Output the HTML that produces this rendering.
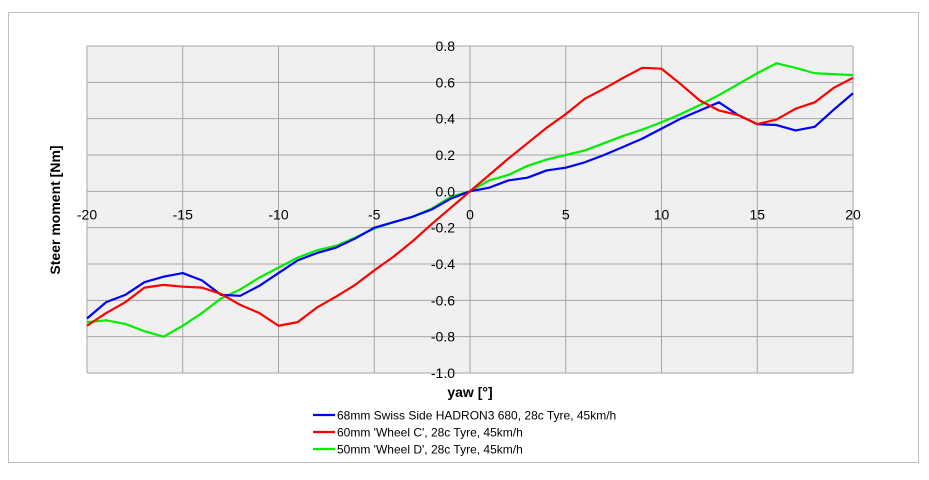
<!DOCTYPE html>
<html><head><meta charset="utf-8"><style>
body{margin:0;background:#fff;}
svg text{font-family:"Liberation Sans",sans-serif;}
</style></head><body>
<svg width="929" height="475" xmlns="http://www.w3.org/2000/svg">
<rect x="8.5" y="12.5" width="910" height="450" fill="#fff" stroke="#bfbfbf"/>
<rect x="87" y="46" width="766" height="327" fill="#f0f0f0"/>
<g id="grid"></g>
<g id="series"></g>
<g id="labels"></g>
<text x="60" y="210" transform="rotate(-90 60 210)" text-anchor="middle" font-size="14" font-weight="bold">Steer moment  [Nm]</text>
<text x="470" y="397" text-anchor="middle" font-size="14" font-weight="bold">yaw [°]</text>
<g>
<g><line x1="313" y1="415" x2="335" y2="415" stroke="#0000ff" stroke-width="2.2"/><text x="337" y="419.5" font-size="12">68mm Swiss Side HADRON3  680, 28c Tyre, 45km/h</text></g>
<g><line x1="313" y1="432" x2="335" y2="432" stroke="#ff0000" stroke-width="2.2"/><text x="337" y="436.5" font-size="12">60mm 'Wheel C', 28c Tyre, 45km/h</text></g>
<g><line x1="313" y1="449" x2="335" y2="449" stroke="#00ee00" stroke-width="2.2"/><text x="337" y="453.5" font-size="12">50mm 'Wheel D', 28c Tyre, 45km/h</text></g>
</g>
</svg>
<script>
const yawValues = [-20,-19,-18,-17,-16,-15,-14,-13,-12,-11,-10,-9,-8,-7,-6,-5,-4,-3,-2,-1,0,1,2,3,4,5,6,7,8,9,10,11,12,13,14,15,16,17,18,19,20];
const hadron3 = [-0.70,-0.61,-0.57,-0.50,-0.47,-0.45,-0.49,-0.57,-0.575,-0.52,-0.45,-0.38,-0.34,-0.31,-0.26,-0.20,-0.17,-0.14,-0.10,-0.04,0.0,0.02,0.06,0.075,0.115,0.13,0.16,0.20,0.245,0.29,0.345,0.40,0.445,0.49,0.42,0.37,0.365,0.335,0.355,0.45,0.54];
const wheelC = [-0.74,-0.67,-0.61,-0.53,-0.515,-0.525,-0.53,-0.565,-0.625,-0.67,-0.74,-0.72,-0.64,-0.58,-0.515,-0.435,-0.36,-0.275,-0.18,-0.09,0.0,0.09,0.18,0.265,0.35,0.425,0.51,0.565,0.625,0.68,0.675,0.59,0.50,0.445,0.42,0.37,0.395,0.455,0.49,0.57,0.625];
const wheelD = [-0.72,-0.71,-0.73,-0.77,-0.80,-0.74,-0.67,-0.59,-0.54,-0.475,-0.42,-0.365,-0.325,-0.30,-0.255,-0.205,-0.17,-0.14,-0.095,-0.03,0.0,0.06,0.09,0.14,0.175,0.20,0.225,0.265,0.305,0.34,0.38,0.425,0.475,0.53,0.59,0.65,0.705,0.68,0.65,0.645,0.64];
const xTicks = [-20,-15,-10,-5,0,5,10,15,20];
const yTicks = [0.8,0.6,0.4,0.2,0.0,-0.2,-0.4,-0.6,-0.8,-1.0];

const NS="http://www.w3.org/2000/svg";
function sx(v){return 87+(v+20)/40*766;}
function sy(v){return 46+(0.8-v)/1.8*327;}
const grid=document.getElementById('grid'), labels=document.getElementById('labels'), series=document.getElementById('series');
function mk(tag,attrs,parent){const e=document.createElementNS(NS,tag);for(const k in attrs)e.setAttribute(k,attrs[k]);parent.appendChild(e);return e;}
xTicks.forEach(t=>{
  const l=mk('line',{x1:sx(t),x2:sx(t),y1:46,y2:373,stroke:'#a6a6a6','stroke-width':1},grid);
  
  
  const tx=mk('text',{x:sx(t),y:sy(0)+28,'text-anchor':'middle','font-size':14},labels);
  tx.textContent=String(t);
  
  
});
yTicks.forEach(t=>{
  const l=mk('line',{x1:87,x2:853,y1:sy(t),y2:sy(t),stroke:'#a6a6a6','stroke-width':1},grid);
  
  
  const tx=mk('text',{x:455,y:sy(t)+5,'text-anchor':'end','font-size':14},labels);
  tx.textContent=t.toFixed(1);
  
  
});
function draw(vals,color,name){
  const p=mk('polyline',{points:vals.map((v,i)=>sx(yawValues[i])+','+sy(v)).join(' '),fill:'none',stroke:color,'stroke-width':2.2,'stroke-linejoin':'round'},series);
  
  
}
draw(wheelD,'#00ee00','line-wheel-d');
draw(hadron3,'#0000ff','line-hadron3');
draw(wheelC,'#ff0000','line-wheel-c');
</script>
</body></html>
